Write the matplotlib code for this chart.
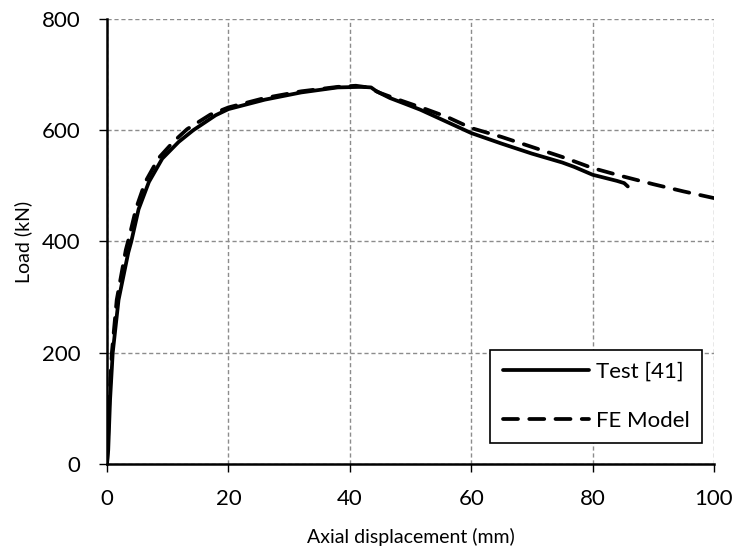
import matplotlib
matplotlib.use("Agg")
import matplotlib.pyplot as plt

plt.rcParams['font.family'] = ['Lato', 'DejaVu Sans']

# Test [41] curve
test_x = [0, 0.2, 0.5, 0.94, 1.9, 3.5, 4.0, 5.2, 6.9, 9.1, 11.8, 14.2, 17.9, 20,
          26, 32, 38, 42, 43.5, 44.4, 46.6, 49, 51.6, 55, 60, 65, 70, 75, 77, 80,
          84, 85.2, 85.8]
test_y = [0, 25, 115, 200, 295, 380, 400, 458, 507, 549, 579, 600, 627, 638,
          655, 668, 677, 678, 677, 670, 658, 648, 637, 620, 595, 576, 558, 542, 534,
          520, 509, 505, 499]

# FE Model curve
fe_x = [0, 0.15, 0.4, 0.8, 1.6, 3.1, 3.7, 4.8, 6.3, 8.5, 11, 13.2, 17, 20,
        26, 32, 38, 41, 43, 45, 48, 52, 56, 60, 65, 70, 75, 80, 85, 90, 95, 100]
fe_y = [0, 40, 120, 200, 295, 385, 410, 460, 507, 550, 580, 602, 628, 641,
        658, 670, 678, 680, 677, 667, 655, 640, 624, 604, 588, 570, 552, 532, 517,
        503, 490, 478]

x_ticks = [0, 20, 40, 60, 80, 100]
y_ticks = [0, 200, 400, 600, 800]

fig = plt.figure(figsize=(7.35, 5.54), dpi=100)
ax = fig.add_axes([0.1456, 0.1625, 0.8258, 0.8032])

ax.plot(test_x, test_y, color='black', lw=2.7, label='Test [41]',
        solid_capstyle='round', solid_joinstyle='round', zorder=3)
ax.plot(fe_x, fe_y, color='black', lw=2.7, ls=(0, (4, 3)), label='FE Model',
        dash_capstyle='round', zorder=3)

ax.set_xlim(0, 100)
ax.set_ylim(0, 800)
ax.set_xticks(x_ticks)
ax.set_yticks(y_ticks)
ax.grid(True, color='#8c8c8c', ls=(0, (3, 2)), lw=1.0)
ax.set_axisbelow(True)

for s in ['top', 'right']:
    ax.spines[s].set_visible(False)
for s in ['left', 'bottom']:
    ax.spines[s].set_linewidth(1.8)
    ax.spines[s].set_color('black')
ax.spines['bottom'].set_zorder(4)

ax.tick_params(direction='out', length=6, width=1.0, labelsize=16, colors='black')
ax.tick_params(axis='x', pad=12)
ax.tick_params(axis='y', pad=13)
ax.set_xlabel('Axial displacement (mm)', fontsize=14, labelpad=14)
ax.set_ylabel('Load (kN)', fontsize=14, labelpad=7)

leg = ax.legend(loc='lower right', bbox_to_anchor=(0.98, 0.047), fontsize=16,
                fancybox=False, framealpha=1, edgecolor='black',
                handlelength=3.9, handletextpad=0.3, borderpad=0.55, labelspacing=1.3,
                borderaxespad=0)
leg.get_frame().set_linewidth(1.2)

fig.savefig('out.png', dpi=100)
